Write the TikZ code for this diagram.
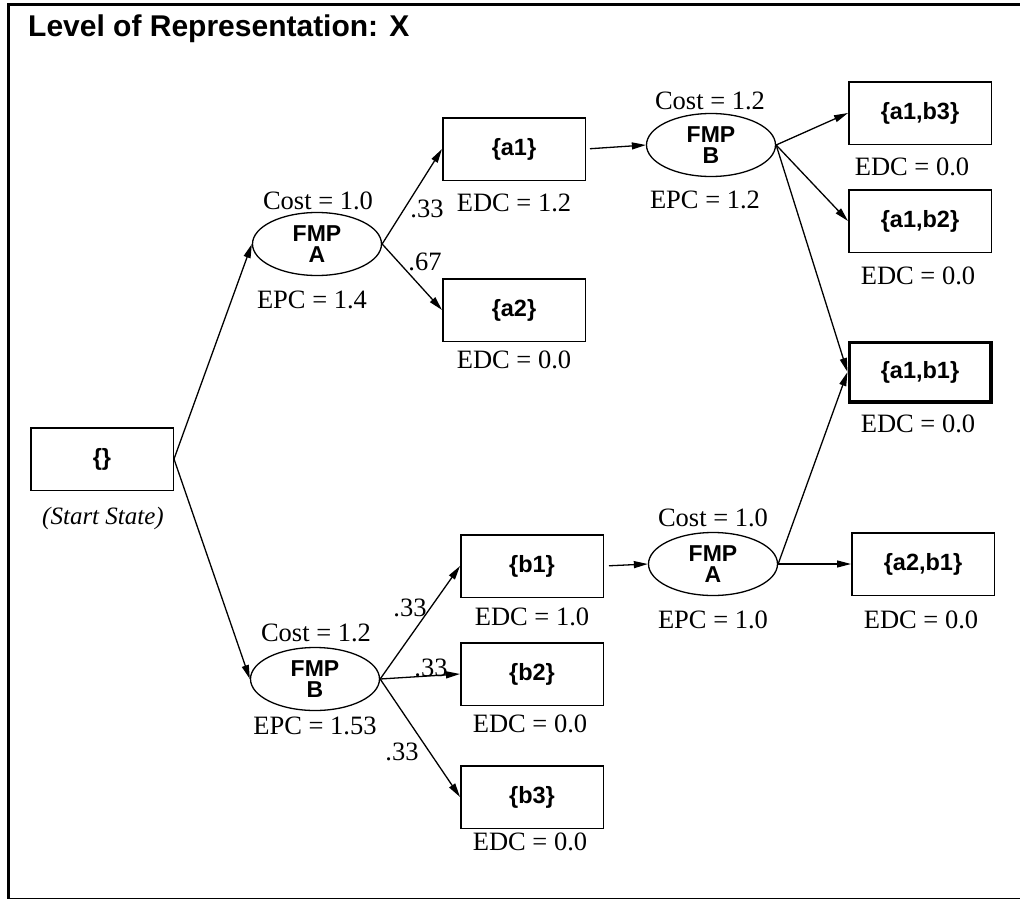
\documentclass[tikz,border=0pt]{standalone}
\usepackage{fontspec}
\setmainfont{Liberation Serif}
\setsansfont{Liberation Sans}
\usetikzlibrary{arrows.meta,shapes.geometric}
\begin{document}
\begin{tikzpicture}[x=1pt,y=-1pt,
  state/.style={draw,line width=1.5pt,minimum width=142.5pt,minimum height=62.5pt,inner sep=0pt,
    font=\fontsize{23.5}{23.5}\selectfont\sffamily\bfseries},
  goal/.style={state,line width=3.5pt,minimum width=141.5pt,minimum height=59.5pt},
  fmp/.style={draw,ellipse,line width=1.3pt,minimum width=129pt,minimum height=63pt,inner sep=0pt,
    align=center,font=\fontsize{23}{21}\selectfont\sffamily\bfseries},
  lbl/.style={font=\fontsize{26.5}{27}\selectfont,inner sep=0pt},
  arr/.style={line width=1.3pt,-{Triangle[length=14pt,width=7pt]}},
]
\useasboundingbox (0,0) rectangle (1020,899);
\draw[line width=3pt] (8.5,4.5) rectangle (1030,899.5);

\node[anchor=base west,inner sep=0pt,font=\fontsize{30}{30}\selectfont\sffamily\bfseries] (title) at (28,37) {Level of Representation: X};

% state nodes
\node[state] (start) at (102,459) {\{\}};
\node[lbl,font=\fontsize{25}{25}\selectfont\itshape] (startlbl) at (103,518) {(Start State)};

\node[fmp] (fmpA1) at (317,244) {FMP\\A};
\node[lbl] (costA1) at (318,201) {Cost = 1.0};
\node[lbl] (epcA1) at (312,300) {EPC = 1.4};

\node[state] (a1) at (514,149) {\{a1\}};
\node[lbl] (edca1) at (514,203) {EDC = 1.2};
\node[state] (a2) at (514,310) {\{a2\}};
\node[lbl] (edca2) at (514,360) {EDC = 0.0};

\node[fmp] (fmpB1) at (711,145) {FMP\\B};
\node[lbl] (costB1) at (710,101) {Cost = 1.2};
\node[lbl] (epcB1) at (705,200) {EPC = 1.2};

\node[state] (a1b3) at (920,113) {\{a1,b3\}};
\node[lbl] (edca1b3) at (912,167) {EDC = 0.0};
\node[state] (a1b2) at (920,221) {\{a1,b2\}};
\node[lbl] (edca1b2) at (918,276) {EDC = 0.0};
\node[goal] (a1b1) at (920,372) {\{a1,b1\}};
\node[lbl] (edca1b1) at (918,424) {EDC = 0.0};

\node[fmp] (fmpB2) at (315,679) {FMP\\B};
\node[lbl] (costB2) at (316,633) {Cost = 1.2};
\node[lbl] (epcB2) at (315,726) {EPC = 1.53};

\node[state] (b1) at (532,566) {\{b1\}};
\node[lbl] (edcb1) at (532,617) {EDC = 1.0};
\node[state] (b2) at (532,674) {\{b2\}};
\node[lbl] (edcb2) at (530,724) {EDC = 0.0};
\node[state] (b3) at (532,797) {\{b3\}};
\node[lbl] (edcb3) at (530,842) {EDC = 0.0};

\node[fmp] (fmpA2) at (713,564) {FMP\\A};
\node[lbl] (costA2) at (713,518) {Cost = 1.0};
\node[lbl] (epcA2) at (713,620) {EPC = 1.0};

\node[state] (a2b1) at (923,564) {\{a2,b1\}};
\node[lbl] (edca2b1) at (921,620) {EDC = 0.0};

% probabilities
\node[lbl] (p1) at (427,209) {.33};
\node[lbl] (p2) at (425,262) {.67};
\node[lbl] (p3) at (410,608) {.33};
\node[lbl] (p4) at (431,668) {.33};
\node[lbl] (p5) at (402,752) {.33};

% connectors
\draw[arr] (start.east) -- (fmpA1.west);
\draw[arr] (start.east) -- (fmpB2.west);
\draw[arr] (fmpA1.east) -- (a1.west);
\draw[arr] (fmpA1.east) -- (a2.west);
\draw[arr,shorten <=4pt] (a1.east) -- (fmpB1.west);
\draw[arr] (fmpB1.east) -- (a1b3.west);
\draw[arr] (fmpB1.east) -- (a1b2.west);
\draw[arr] (fmpB1.east) -- (a1b1.west);
\draw[arr] (fmpB2.east) -- (b1.west);
\draw[arr] (fmpB2.east) -- (b2.west);
\draw[arr] (fmpB2.east) -- (b3.west);
\draw[arr,shorten <=5pt] (b1.east) -- (fmpA2.west);
\draw[arr] (fmpA2.east) -- (a2b1.west);
\draw[arr] (fmpA2.east) -- (a1b1.west);
\end{tikzpicture}
\end{document}
